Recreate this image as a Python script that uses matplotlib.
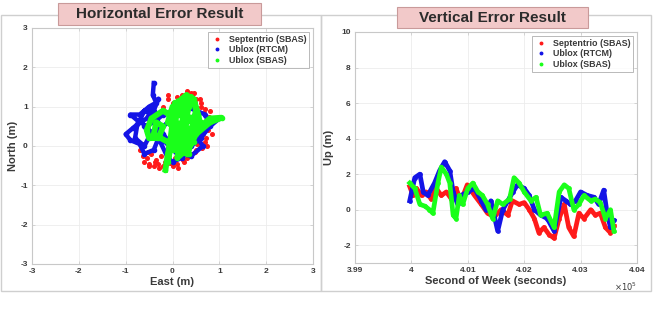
import matplotlib
matplotlib.use("Agg")
import matplotlib.pyplot as plt
from matplotlib.patches import Rectangle
from matplotlib.ticker import FuncFormatter

plt.rcParams["axes.unicode_minus"] = False

# ---------------- data ----------------
legend_labels = ["Septentrio (SBAS)", "Ublox (RTCM)", "Ublox (SBAS)"]
series_colors = ["#ff1a1a", "#1414e6", "#1aff1a"]

# Horizontal error (East, North) in metres
sept_east = [-0.6, -0.5, -0.4, -0.3, -0.2, 0.0, 0.1, 0.3, 0.5, 0.6, 0.7, 0.75, 0.8, 0.8, 0.7, 0.6,
             0.5, 0.4, 0.3, 0.2, 0.1, -0.1, -0.2, -0.55, -0.45, -0.35, -0.25, -0.1, 0.05, 0.2,
             0.45, 0.65, 0.55, 0.6, 0.45, 0.35, 0.15, 0.0, -0.7, -0.65, 0.25, 0.35,
             -0.5, -0.38, -0.28, -0.15, -0.05, 0.12, 0.22, 0.4, 0.62, 0.72, 0.85, 0.78, 0.68,
             0.58, 0.42, 0.25, 0.05, -0.1, -0.75, -0.62, -0.52, 0.52, 0.66, 0.74, 0.48]
sept_north = [-0.4, -0.45, -0.5, -0.45, -0.5, -0.5, -0.45, -0.3, -0.1, 0.0, 0.1, 0.4, 0.6, 0.9, 0.95, 1.1,
              1.2, 1.35, 1.4, 1.3, 1.25, 1.2, 1.0, -0.3, -0.2, -0.35, -0.25, -0.35, -0.3, -0.2,
              0.2, 0.3, 0.8, 1.0, 1.35, 1.25, 1.1, 1.1, -0.1, 0.05, -0.4, -0.2,
              -0.52, -0.4, -0.55, -0.4, -0.42, -0.55, -0.35, -0.2, -0.05, 0.2, 0.3, 0.75, 0.85,
              1.2, 1.28, 1.15, 1.05, 1.3, 0.1, -0.25, -0.15, 0.05, 0.5, 0.0, -0.15]

rtcm_east = [-0.4, -0.42, -0.35, -0.5, -0.7, -0.9, -0.7, -0.85, -1.0, -0.9, -0.7, -0.6, -0.4, -0.3,
             -0.1, 0.0, 0.2, 0.4, 0.6, 0.8, 0.7, 0.5, 0.3, 0.0, -0.2, -0.4, -0.6, -0.5, -0.3, -0.1,
             0.2, 0.5, 0.8, 1.0, 0.6, 0.3, 0.0, -0.2, -0.4, -0.3, -0.55, -0.75, -0.8, -0.6,
             -0.45, -0.7, -0.6, -0.35, -0.2, 0.1, 0.4, 0.65, 0.5]
rtcm_north = [1.6, 1.3, 1.1, 1.0, 0.8, 0.8, 0.6, 0.45, 0.3, 0.15, 0.05, -0.2, -0.1, 0.2,
              -0.3, -0.4, -0.3, 0.0, 0.2, 0.5, 0.8, 0.9, 1.0, 0.9, 0.8, 0.6, 0.5, 0.3, 0.4, 0.6,
              0.5, 0.4, 0.6, 0.7, 0.3, 0.1, 0.0, 0.3, 0.9, 1.2, 0.7, 0.55, 0.2, 0.0,
              0.35, 0.65, 0.9, 0.75, 0.15, -0.2, -0.25, 0.0, 0.25]

sbas_east = [-0.15, -0.1, 0.0, 0.1, 0.2, 0.3, 0.35, 0.25, 0.15, 0.1, 0.3, 0.4, 0.5, 0.45, 0.55, 0.6,
             0.8, 1.05, 0.8, 0.5, 0.3, 0.2, 0.05, -0.2, -0.45, -0.55, -0.5, -0.3, -0.2, -0.35, -0.4,
             -0.1, 0.0, 0.2, 0.3, 0.0, -0.1, 0.1, 0.4, 0.6, 0.3, 0.0, -0.1,
             0.05, 0.45, 0.05, 0.5, 0.0, 0.55, 0.05, 0.45, 0.1, 0.35, 0.25, 0.4, 0.15]
sbas_north = [-0.6, -0.2, 0.3, 0.9, 1.2, 1.3, 1.0, 0.5, 0.0, -0.3, -0.1, 0.4, 0.9, 1.2, 0.8, 0.5,
              0.7, 0.72, 0.6, 0.3, -0.2, 0.2, 0.7, 0.9, 0.7, 0.4, 0.2, 0.2, 0.5, 0.6, 0.3,
              0.1, -0.1, 0.6, 1.0, 1.0, 0.6, 0.4, 0.7, 0.6, 0.3, 0.2, -0.4,
              1.1, 1.1, 0.8, 0.7, 0.5, 0.4, 0.2, 0.1, -0.1, -0.2, 0.9, 1.25, 1.15]

# Vertical error: second of week and Up (m)
sept_sow = [399970, 400030, 400090, 400180, 400260, 400350, 400440, 400530, 400620, 400710, 400790,
            400880, 400990, 401120, 401240, 401350, 401470, 401590, 401710, 401790, 401910, 402000,
            402090, 402180, 402260, 402350, 402440, 402530, 402620, 402710, 402790, 402880, 402970,
            403060, 403180, 403260, 403350, 403440, 403530, 403590]
sept_up = [1.3, 0.8, 1.2, 0.8, 1.0, 0.6, 1.2, 0.8, 1.0, 0.6, 1.2,
           0.5, 1.4, 0.8, 0.3, -0.2, -0.4, 0.0, -0.3, 0.5, 0.3, 0.4,
           0.0, -0.5, -1.3, -1.0, -1.4, -1.6, -0.5, 0.3, -1.0, -1.5, -0.2,
           -0.5, 0.0, -0.3, -0.2, -1.0, -1.3, -0.9]

rtcm_sow = [399970, 400060, 400150, 400210, 400290, 400410, 400500, 400590, 400680, 400740, 400820,
            400880, 401000, 401120, 401240, 401320, 401410, 401530, 401620, 401710, 401800, 401880,
            402000, 402090, 402180, 402290, 402410, 402530, 402650, 402740, 402820, 402910, 403000,
            403120, 403240, 403320, 403410, 403470, 403530, 403590]
rtcm_up = [0.5, 1.8, 2.0, 1.0, 0.8, 1.5, 2.2, 2.7, 2.2, 1.0, 0.3,
           0.8, 1.0, 1.2, 0.5, 0.0, 0.5, -1.2, 0.0, 0.5, 1.0, 1.4,
           1.2, 0.8, 0.0, -0.3, -0.5, -1.2, 0.7, 0.5, 0.3, 0.5, 1.0,
           0.8, 0.7, 0.3, 1.1, -0.2, -1.0, -0.6]

sbas_sow = [399970, 400060, 400150, 400240, 400320, 400380, 400470, 400530, 400620, 400680, 400740,
            400790, 400850, 400910, 401000, 401090, 401180, 401260, 401350, 401440, 401530, 401620,
            401740, 401820, 401910, 402000, 402120, 402210, 402290, 402410, 402530, 402620, 402710,
            402790, 402880, 402970, 403060, 403180, 403260, 403350, 403440, 403530, 403590]
sbas_up = [1.5, 1.2, 0.3, 0.2, 0.0, -0.2, 1.5, 2.4, 2.0, 1.5, -0.3,
           -0.5, 0.8, 0.3, 1.2, 1.5, 1.0, 0.8, 0.3, -0.5, 0.5, 0.3,
           0.6, 1.8, 1.5, 1.0, 0.5, 0.7, -0.3, -0.2, -1.0, 1.0, 1.4,
           1.2, 0.0, 0.3, 0.8, 0.5, 0.6, 0.4, -0.5, 0.0, -1.2]

h_ticks = [-3, -2, -1, 0, 1, 2, 3]
v_yticks = [-2, 0, 2, 4, 6, 8, 10]
v_xticks = [399000, 400000, 401000, 402000, 403000, 404000]

# ---------------- figure ----------------
W, H = 656, 314
fig = plt.figure(figsize=(W / 100, H / 100), dpi=100)
fig.patch.set_facecolor("white")

def fx(px):
    return px / W

def fy(py):
    return 1 - py / H

# panel frames
for x0, x1 in [(1, 321), (321, 651)]:
    fig.patches.append(Rectangle((fx(x0), fy(291)), fx(x1 - x0), (291 - 15) / H,
                                 transform=fig.transFigure, fill=False,
                                 edgecolor="#cfcfcf", linewidth=1.0, zorder=0))

tick_color = "#3a3a3a"
FONT = "Liberation Sans"

def style_axes(ax):
    for s in ax.spines.values():
        s.set_color("#c8c8c8")
        s.set_linewidth(0.8)
    ax.tick_params(direction="in", length=2.5, width=0.5, colors="#c8c8c8",
                   labelcolor=tick_color, labelsize=6, pad=3,
                   top=True, right=True)
    for lab in ax.get_xticklabels() + ax.get_yticklabels():
        lab.set_fontweight("bold")
        lab.set_family(FONT)
    ax.grid(True, color="#ececec", linewidth=0.6)
    ax.set_axisbelow(True)

# ---- left: horizontal ----
axL = fig.add_axes([fx(32), fy(264), fx(313 - 32), (264 - 28) / H])
axL.plot(sept_east, sept_north, linestyle="none", marker="o", markersize=2.6,
         color=series_colors[0], label=legend_labels[0])
axL.plot(rtcm_east, rtcm_north, linestyle="-", linewidth=3.2, marker="o", markersize=3,
         color=series_colors[1], label=legend_labels[1])
axL.plot(sbas_east, sbas_north, linestyle="-", linewidth=4.2, marker="o", markersize=3,
         color=series_colors[2], label=legend_labels[2])
axL.set_xlim(-3, 3)
axL.set_ylim(-3, 3)
axL.set_xticks(h_ticks)
axL.set_yticks(h_ticks)
axL.set_xlabel("East (m)", fontsize=8, fontweight="bold", color=tick_color, family=FONT, labelpad=1)
axL.set_ylabel("North (m)", fontsize=8, fontweight="bold", color=tick_color, family=FONT, labelpad=2)
style_axes(axL)

# ---- right: vertical ----
axR = fig.add_axes([fx(355), fy(263), fx(637 - 355), (263 - 32) / H])
for sow, up, c, lab in [(sept_sow, sept_up, series_colors[0], legend_labels[0]),
                        (rtcm_sow, rtcm_up, series_colors[1], legend_labels[1]),
                        (sbas_sow, sbas_up, series_colors[2], legend_labels[2])]:
    axR.plot(sow, up, linestyle="-", linewidth=3.4, marker="o", markersize=2.4,
             color=c, label=lab)
axR.set_xlim(399000, 404000)
axR.set_ylim(-3, 10)
axR.set_xticks(v_xticks)
axR.set_yticks(v_yticks)
axR.xaxis.set_major_formatter(FuncFormatter(lambda v, p: "%g" % (v / 1e5)))
axR.set_xlabel("Second of Week (seconds)", fontsize=8, fontweight="bold", color=tick_color,
               family=FONT, labelpad=1)
axR.set_ylabel("Up (m)", fontsize=8, fontweight="bold", color=tick_color, family=FONT, labelpad=5)
style_axes(axR)
axR.text(1.0, -0.075, r"$\times10^5$", transform=axR.transAxes, fontsize=6,
         color=tick_color, ha="right", va="top")

for ax in (axL, axR):
    leg = ax.legend(loc="upper right", frameon=True, fancybox=False,
                    borderpad=0.35, labelspacing=0.2, handlelength=1.3, handletextpad=0.7,
                    borderaxespad=0.4,
                    prop={"family": FONT, "weight": "bold", "size": 6.4})
    leg.get_frame().set_edgecolor("#9a9a9a")
    leg.get_frame().set_linewidth(0.6)
    for h in leg.legend_handles:
        h.set_linestyle("none")
        h.set_marker("o")
        h.set_markersize(1.8)
    for t in leg.get_texts():
        t.set_color(tick_color)

# title boxes
def title_box(x0, x1, y0, y1, text):
    fig.patches.append(Rectangle((fx(x0), fy(y1)), fx(x1 - x0), (y1 - y0) / H,
                                 transform=fig.transFigure, facecolor="#f2c9c9",
                                 edgecolor="#c99a9a", linewidth=0.8, zorder=5))
    fig.text(fx((x0 + x1) / 2), fy((y0 + y1) / 2), text, ha="center", va="center",
             fontsize=11, fontweight="bold", color="#2b2b2b", family=FONT, zorder=6)

title_box(58, 261, 3, 25, "Horizontal Error Result")
title_box(397, 588, 7, 28, "Vertical Error Result")

fig.savefig("out.png", dpi=100, facecolor="white")
